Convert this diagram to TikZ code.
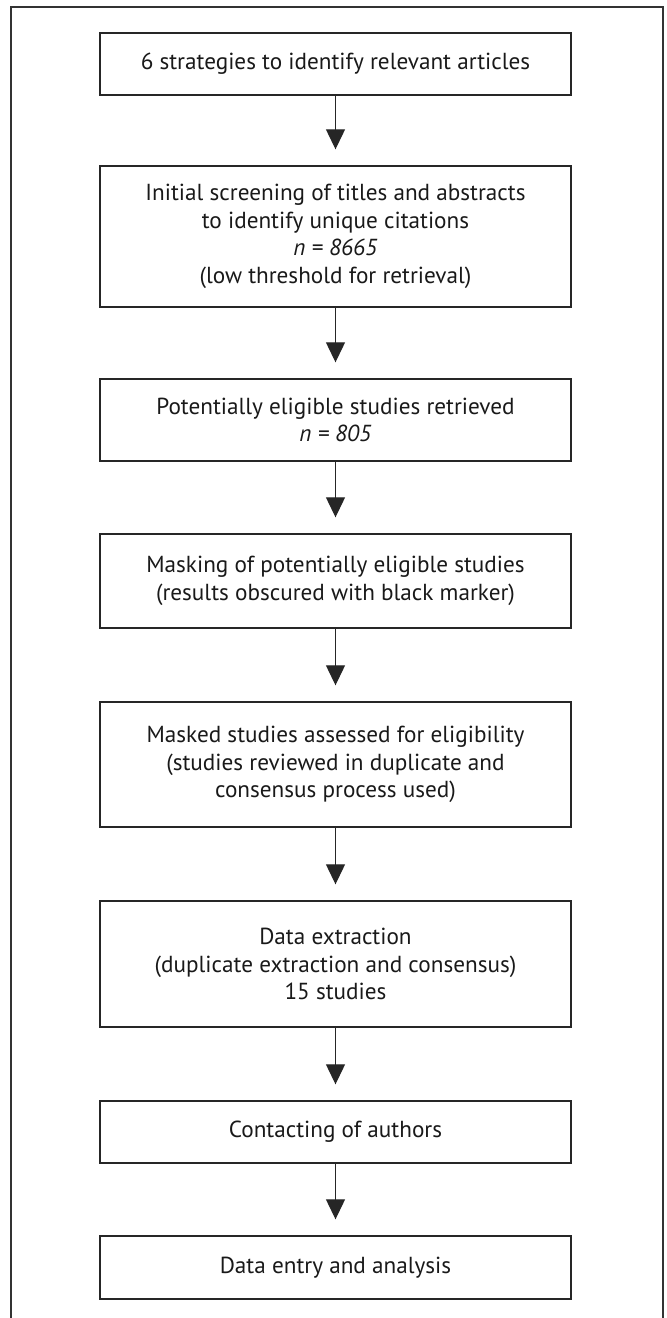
\documentclass[tikz,border=0pt]{standalone}
\usepackage{fontspec}
\setmainfont{PT Sans}
\usetikzlibrary{arrows.meta}

\begin{document}
\begin{tikzpicture}[x=0.5pt,y=-0.5pt]
    \tikzset{stage/.style = {shape=rectangle,draw=black!85,line width=0.7pt,minimum width=235.5pt,align=center,inner sep=0pt,text=black!90,font=\fontsize{11.6}{13.8}\selectfont}}
    \tikzset{flow/.style = {-{Triangle[length=10pt,width=9.5pt]},line width=0.6pt,draw=black!85,shorten >=8pt}}

    \useasboundingbox (0,0) rectangle (666,1318);
    \draw[line width=0.7pt,black!80] (11,1318) -- (11,7) -- (663,7) -- (663,1318);

    \node[stage,minimum height=31pt] (strategies) at (335.5,64) {6 strategies to identify relevant articles};

    \node[stage,minimum height=70.5pt] (screening) at (335.5,236.5) {Initial screening of titles and abstracts\\to identify unique citations\\\textit{n = 8665}\\(low threshold for retrieval)};

    \node[stage,minimum height=41pt] (retrieved) at (335.5,420) {Potentially eligible studies retrieved\\\textit{n = 805}};

    \node[stage,minimum height=47pt] (masking) at (335.5,581) {Masking of potentially eligible studies\\(results obscured with black marker)};

    \node[stage,minimum height=62.5pt] (assessed) at (335.5,764.5) {Masked studies assessed for eligibility\\(studies reviewed in duplicate and\\consensus process used)};

    \node[stage,minimum height=63pt] (extraction) at (335.5,964) {Data extraction\\(duplicate extraction and consensus)\\15 studies};

    \node[stage,minimum height=31pt] (contacting) at (335.5,1132) {Contacting of authors};

    \node[stage,minimum height=31.5pt] (entry) at (335.5,1267.5) {Data entry and analysis};

    \draw [flow] (strategies) -- (screening);
    \draw [flow] (screening) -- (retrieved);
    \draw [flow] (retrieved) -- (masking);
    \draw [flow] (masking) -- (assessed);
    \draw [flow] (assessed) -- (extraction);
    \draw [flow] (extraction) -- (contacting);
    \draw [flow] (contacting) -- (entry);
\end{tikzpicture}
\end{document}
